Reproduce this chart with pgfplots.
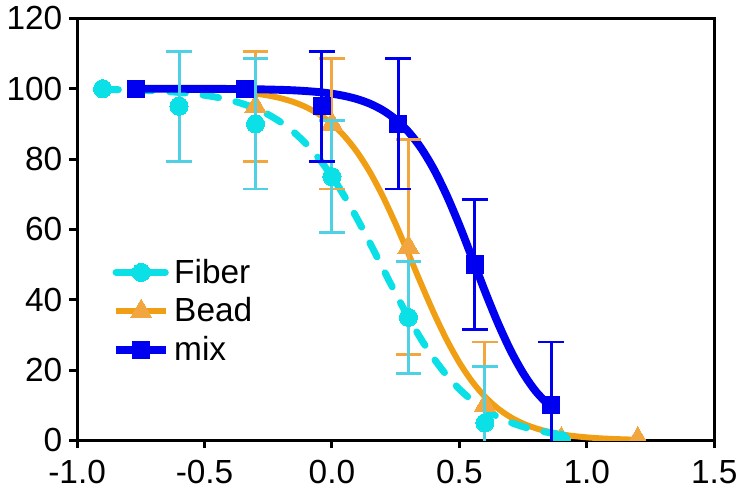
\documentclass[border=0pt]{standalone}
\usepackage{pgfplots}
\pgfplotsset{compat=1.18}
\usepackage{fontspec}
\setmainfont{Liberation Sans}

\definecolor{fibc}{RGB}{10,224,230}
\definecolor{fibe}{RGB}{80,208,228}
\definecolor{beadc}{RGB}{240,158,20}
\definecolor{beadm}{RGB}{242,166,64}
\definecolor{mixc}{RGB}{0,0,240}

\begin{document}
\begin{tikzpicture}
\begin{axis}[
    scale only axis,
    width=323bp, height=214bp,
    xmin=-1.0, xmax=1.5,
    ymin=0, ymax=120,
    xtick={-1.0,-0.5,0,0.5,1.0,1.5},
    xticklabels={-1.0,-0.5,0.0,0.5,1.0,1.5},
    ytick={0,20,40,60,80,100,120},
    xtick pos=left, ytick pos=left,
    tick align=outside,
    major tick length=4bp,
    axis line style={line width=1.5bp},
    every tick/.style={line width=1.5bp, black},
    tick label style={font=\fontsize{17}{20}\selectfont},
    xticklabel style={yshift=-2.5bp},
    /pgf/number format/assume math mode=true,
    clip marker paths=true,
    legend style={draw=none, fill=none, at={(0.045,0.45)}, anchor=north west,
        font=\fontsize{17}{20}\selectfont, row sep=2bp},
    legend cell align=left,
    legend image code/.code={
        \draw[mark repeat=2,mark phase=2,#1] plot coordinates {(0cm,0cm) (0.45cm,0cm) (0.9cm,0cm)};},
]
% fitted curves
\addplot[forget plot, beadc, line width=3bp, smooth] coordinates {
(-0.3,98.62) (-0.25,98.06) (-0.2,97.28) (-0.15,96.20) (-0.1,94.72) (-0.05,92.70)
(0,90.00) (0.05,86.43) (0.1,81.85) (0.15,76.14) (0.2,69.32) (0.25,61.53)
(0.3,53.10) (0.35,44.50) (0.4,36.21) (0.45,28.66) (0.5,22.14) (0.55,16.76)
(0.6,12.48) (0.65,9.17) (0.7,6.67) (0.75,4.81) (0.8,3.46) (0.85,2.47)
(0.9,1.76) (0.95,1.25) (1.0,0.89) (1.05,0.63) (1.1,0.45) (1.15,0.32) (1.2,0.23)
};
\addplot[forget plot, fibc, line width=3.5bp, smooth, line cap=round,
    dash pattern=on 8bp off 9bp] coordinates {
(-0.9,99.81) (-0.85,99.75) (-0.8,99.66) (-0.75,99.55) (-0.7,99.40) (-0.65,99.21)
(-0.6,98.94) (-0.55,98.60) (-0.5,98.14) (-0.45,97.54) (-0.4,96.75) (-0.35,95.72)
(-0.3,94.38) (-0.25,92.65) (-0.2,90.44) (-0.15,87.66) (-0.1,84.21) (-0.05,80.02)
(0,75.05) (0.05,69.30) (0.1,62.90) (0.15,56.00) (0.2,48.86) (0.25,41.77)
(0.3,35.00) (0.35,28.78) (0.4,23.28) (0.45,18.55) (0.5,14.60) (0.55,11.38)
(0.6,8.79) (0.65,6.75) (0.7,5.15) (0.75,3.92) (0.8,2.97) (0.85,2.25) (0.9,1.70)
};
\addplot[forget plot, mixc, line width=4bp, smooth] coordinates {
(-0.77,100.00) (-0.7,99.99) (-0.6,99.98) (-0.5,99.97) (-0.4,99.93) (-0.3,99.85)
(-0.2,99.68) (-0.15,99.54) (-0.1,99.33) (-0.05,99.03) (0,98.58) (0.05,97.94)
(0.1,97.02) (0.15,95.71) (0.2,93.86) (0.25,91.28) (0.3,87.76) (0.35,83.08)
(0.4,77.07) (0.45,69.71) (0.5,61.17) (0.55,51.89) (0.6,42.48) (0.65,33.59)
(0.7,25.72) (0.75,19.16) (0.8,13.96) (0.86,9.34)
};

% Bead data
\addplot[forget plot, beadm, only marks, mark=triangle*, mark size=6.2bp,
    mark options={fill=beadm, draw=beadm, line width=0pt},
    error bars/.cd, y dir=both, y explicit,
    error bar style={line width=1.5bp, beadm},
    error mark options={rotate=90, mark size=6.5bp, line width=1.5bp, beadm}]
coordinates {
(-0.3,95) +- (0,15.7)
(0,90) +- (0,18.5)
(0.3,55) +- (0,30.5)
(0.6,10) +- (0,18)
};
\addplot[forget plot, beadm, only marks, mark=triangle*, mark size=6.2bp,
    mark options={fill=beadm, draw=beadm, line width=0pt}] coordinates {(0.9,0.5) (1.2,0.5)};

% Fiber data
\addplot[forget plot, fibc, only marks, mark=*, mark size=4.6bp,
    mark options={fill=fibc, draw=fibc, line width=0pt},
    error bars/.cd, y dir=both, y explicit,
    error bar style={line width=1.5bp, fibe},
    error mark options={rotate=90, mark size=6.5bp, line width=1.5bp, fibe}]
coordinates {
(-0.6,95) +- (0,15.7)
(-0.3,90) +- (0,18.5)
(0,75) +- (0,16)
(0.3,35) +- (0,16)
(0.6,5) +- (0,16)
};
\addplot[forget plot, fibc, only marks, mark=*, mark size=4.6bp,
    mark options={fill=fibc, draw=fibc, line width=0pt}] coordinates {(-0.9,100) (0.9,0)};

% mix data
\addplot[forget plot, mixc, only marks, mark=square*, mark size=4.4bp,
    mark options={fill=mixc, draw=mixc, line width=0pt},
    error bars/.cd, y dir=both, y explicit,
    error bar style={line width=1.5bp, mixc},
    error mark options={rotate=90, mark size=6.5bp, line width=1.5bp, mixc}]
coordinates {
(-0.04,95) +- (0,15.7)
(0.26,90) +- (0,18.5)
(0.56,50) +- (0,18.4)
(0.86,10) +- (0,18)
};
\addplot[forget plot, mixc, only marks, mark=square*, mark size=4.4bp,
    mark options={fill=mixc, draw=mixc, line width=0pt}] coordinates {(-0.77,100) (-0.34,100)};

% legend
\addlegendimage{fibc, line width=3.5bp, line cap=round, dash pattern=on 8bp off 9bp,
    mark=*, mark size=4.6bp, mark options={solid, fill=fibc, draw=fibc, line width=0pt}}
\addlegendentry{Fiber}
\addlegendimage{beadc, line width=3bp, mark=triangle*, mark size=6.2bp,
    mark options={fill=beadm, draw=beadm, line width=0pt}}
\addlegendentry{Bead}
\addlegendimage{mixc, line width=4bp, mark=square*, mark size=4.4bp,
    mark options={fill=mixc, draw=mixc, line width=0pt}}
\addlegendentry{mix}
\end{axis}
\end{tikzpicture}
\end{document}
